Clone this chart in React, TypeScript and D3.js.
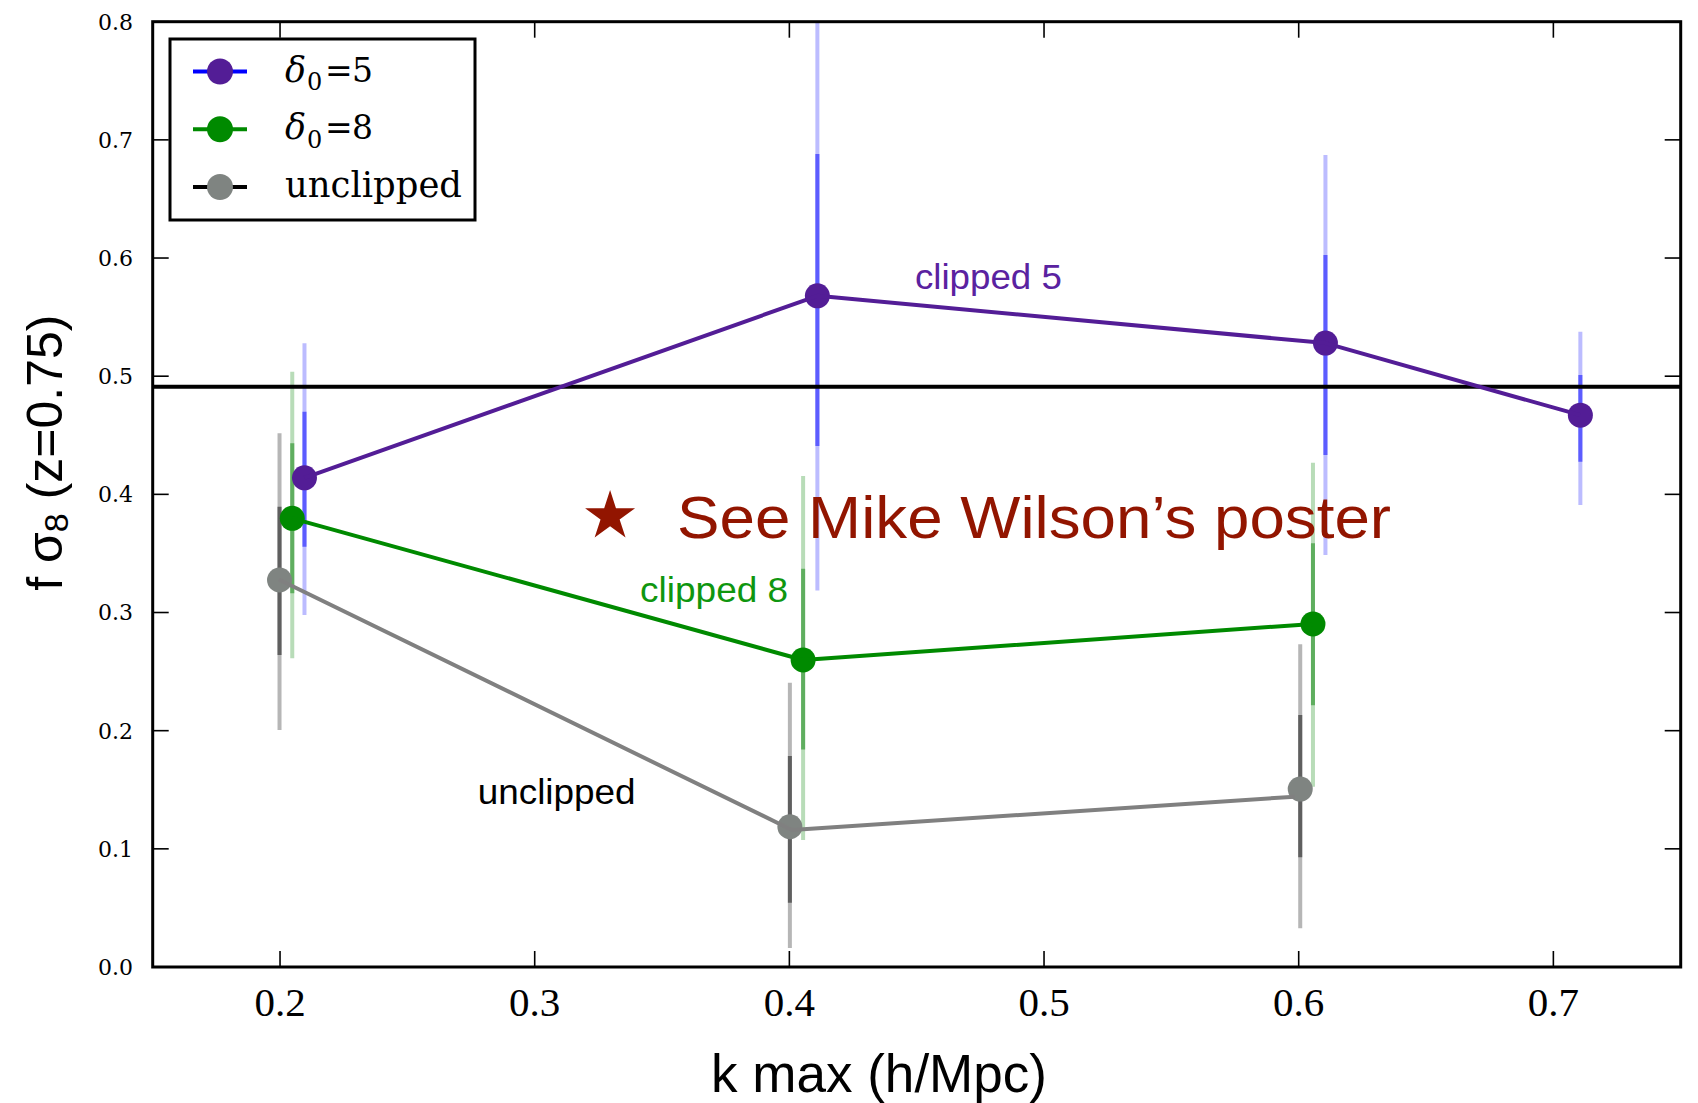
import React from "react";
import * as d3 from "d3";

// ---- data ----
const kPurple = [0.2096, 0.411, 0.6105, 0.7106];
const fPurple = [0.414, 0.568, 0.528, 0.467];
const purpleInner = [[0.3557, 0.47], [0.441, 0.688], [0.4333, 0.6026], [0.4276, 0.501]];
const purpleOuter = [[0.2979, 0.5278], [0.3186, 0.818], [0.3487, 0.6872], [0.391, 0.5377]];

const kGreen = [0.2048, 0.4054, 0.6056];
const fGreen = [0.3797, 0.2598, 0.2903];
const greenInner = [[0.3163, 0.4432], [0.184, 0.337], [0.2215, 0.3586]];
const greenOuter = [[0.2613, 0.5038], [0.1075, 0.4155], [0.1526, 0.4268]];

const kGray = [0.1998, 0.4002, 0.6006];
const fGray = [0.3275, 0.1187, 0.1506];
const grayInner = [[0.264, 0.3896], [0.0544, 0.1786], [0.0928, 0.2133]];
const grayOuter = [[0.2006, 0.4517], [0.016, 0.2406], [0.0327, 0.2731]];
const kGrayLine = [0.1995, 0.401, 0.5985];
const fGrayLine = [0.328, 0.116, 0.1441];

const fiducial = 0.491;

const xTicks = [0.2, 0.3, 0.4, 0.5, 0.6, 0.7];
const yTicks = [0.0, 0.1, 0.2, 0.3, 0.4, 0.5, 0.6, 0.7, 0.8];

const annotations = [
  { text: "clipped 5", k: 0.4493, f: 0.5738, color: "#5a22a0", len: 147 },
  { text: "clipped 8", k: 0.3414, f: 0.3089, color: "#0f960f", len: 148 },
  { text: "unclipped", k: 0.2776, f: 0.138, color: "#000000", len: 158 },
];
const starPos = { k: 0.3296, f: 0.3814 };
const posterText = { text: "See Mike Wilson\u2019s poster", k: 0.3559, f: 0.3631 };

// ---- layout ----
const W = 1698, H = 1103;
const L = 152.7, R = 1680.7, T = 21.7, B = 967;

export default function App() {
  const x = d3.scaleLinear().domain([0.15, 0.75]).range([L, R]);
  const y = d3.scaleLinear().domain([0, 0.8]).range([B, T]);
  const line = d3.line<[number, number]>().x((d) => x(d[0])).y((d) => y(d[1]));

  const series = [
    { k: kPurple, f: fPurple, inner: purpleInner, outer: purpleOuter, lk: kPurple, lf: fPurple,
      innerC: "#5c5cff", outerC: "#bcbcff", marker: "#531d96", lineC: "#531d96" },
    { k: kGreen, f: fGreen, inner: greenInner, outer: greenOuter, lk: kGreen, lf: fGreen,
      innerC: "#5fae5f", outerC: "#b8dcb8", marker: "#008a00", lineC: "#008a00" },
    { k: kGray, f: fGray, inner: grayInner, outer: grayOuter, lk: kGrayLine, lf: fGrayLine,
      innerC: "#5f5f5f", outerC: "#b6b6b6", marker: "#7f8481", lineC: "#808080" },
  ];

  const star = d3.symbol().type(d3.symbolStar).size(776)();

  const legendRows = [
    { lineC: "#0000ff", marker: "#531d96", kind: "d", val: "5" },
    { lineC: "#008a00", marker: "#008a00", kind: "d", val: "8" },
    { lineC: "#000000", marker: "#7f8481", kind: "u", val: "" },
  ];
  const rowY = [71.5, 129.3, 187];

  return (
    <svg width={W} height={H} style={{ position: "absolute", left: 0, top: 0, background: "#fff" }}>
      <defs>
        <clipPath id="plotclip">
          <rect x={L} y={T} width={R - L} height={B - T} />
        </clipPath>
      </defs>
      <rect x={0} y={0} width={W} height={H} fill="#fff" />

      <g clipPath="url(#plotclip)">
        {/* error bars */}
        {series.map((s, si) => (
          <g key={"eb" + si}>
            {s.outer.map((e, i) => (
              <line key={"o" + i} x1={x(s.k[i])} x2={x(s.k[i])} y1={y(e[0])} y2={y(e[1])}
                stroke={s.outerC} strokeWidth={4} />
            ))}
            {s.inner.map((e, i) => (
              <line key={"i" + i} x1={x(s.k[i])} x2={x(s.k[i])} y1={y(e[0])} y2={y(e[1])}
                stroke={s.innerC} strokeWidth={4} />
            ))}
          </g>
        ))}
        {/* fiducial line */}
        <line x1={L} x2={R} y1={y(fiducial)} y2={y(fiducial)} stroke="#000" strokeWidth={4} />
        {/* markers */}
        {series.map((s, si) => (
          <g key={"m" + si}>
            {s.k.map((k, i) => (
              <circle key={i} cx={x(k)} cy={y(s.f[i])} r={12.5} fill={s.marker} />
            ))}
          </g>
        ))}
        {/* lines */}
        {series.map((s, si) => (
          <path key={"l" + si}
            d={line(s.lk.map((k, i) => [k, s.lf[i]] as [number, number])) || ""}
            fill="none" stroke={s.lineC} strokeWidth={4} strokeLinejoin="round" />
        ))}
      </g>

      {/* annotations */}
      {annotations.map((a, i) => (
        <text key={"a" + i} x={x(a.k)} y={y(a.f)} fill={a.color}
          fontFamily="'Liberation Sans', Arial, sans-serif" fontSize={35}
          textLength={a.len} lengthAdjust="spacingAndGlyphs">{a.text}</text>
      ))}
      <path d={star || ""} transform={`translate(${x(starPos.k)},${y(starPos.f)})`} fill="#921500" />
      <text x={x(posterText.k)} y={y(posterText.f)} fill="#921500"
        fontFamily="'Liberation Sans', Arial, sans-serif" fontSize={60}
        textLength={714} lengthAdjust="spacingAndGlyphs">{posterText.text}</text>

      {/* frame */}
      <rect x={L} y={T} width={R - L} height={B - T} fill="none" stroke="#000" strokeWidth={3} />

      {/* ticks */}
      {xTicks.map((t) => (
        <g key={"xt" + t}>
          <line x1={x(t)} x2={x(t)} y1={B} y2={B - 16} stroke="#000" strokeWidth={1.6} />
          <line x1={x(t)} x2={x(t)} y1={T} y2={T + 16} stroke="#000" strokeWidth={1.6} />
          <text x={x(t)} y={1016} textAnchor="middle"
            fontFamily="'Liberation Serif', 'Times New Roman', serif" fontSize={41} fill="#000">
            {t.toFixed(1)}
          </text>
        </g>
      ))}
      {yTicks.map((t) => (
        <g key={"yt" + t}>
          <line x1={L} x2={L + 16} y1={y(t)} y2={y(t)} stroke="#000" strokeWidth={1.6} />
          <line x1={R} x2={R - 16} y1={y(t)} y2={y(t)} stroke="#000" strokeWidth={1.6} />
          <text x={133} y={y(t)} dy="0.36em" textAnchor="end"
            fontFamily="'DejaVu Serif', serif" fontSize={22} fill="#000">
            {t.toFixed(1)}
          </text>
        </g>
      ))}

      {/* axis labels */}
      <text x={879} y={1092} textAnchor="middle"
        fontFamily="'Liberation Sans', Arial, sans-serif" fontSize={54} fill="#000"
        textLength={336} lengthAdjust="spacingAndGlyphs">k max (h/Mpc)</text>
      <text transform="translate(61.7,452.7) rotate(-90)" textAnchor="middle"
        fontFamily="'Liberation Sans', Arial, sans-serif" fontSize={50} fill="#000">
        <tspan>f σ</tspan>
        <tspan fontSize={34} dy={6}>8</tspan>
        <tspan dy={-6}> (z=0.75)</tspan>
      </text>

      {/* legend */}
      <rect x={170} y={39} width={305} height={181} fill="#fff" stroke="#000" strokeWidth={3} />
      {legendRows.map((r, i) => (
        <g key={"lg" + i}>
          <line x1={193} x2={247} y1={rowY[i]} y2={rowY[i]} stroke={r.lineC} strokeWidth={4} />
          <circle cx={220} cy={rowY[i]} r={13} fill={r.marker} />
          {r.kind === "d" ? (
            <text x={285} y={rowY[i] + 10} fontFamily="'DejaVu Serif', serif" fill="#000" fontSize={35}>
              <tspan fontStyle="italic">δ</tspan>
              <tspan x={307} dy={8.5} fontSize={24}>0</tspan>
              <tspan x={325} dy={-8.5} fontSize={33}>=</tspan>
              <tspan x={352} fontSize={33}>{r.val}</tspan>
            </text>
          ) : (
            <text x={285} y={rowY[i] + 10} fontFamily="'DejaVu Serif', serif" fontSize={35} fill="#000"
              textLength={177} lengthAdjust="spacingAndGlyphs">unclipped</text>
          )}
        </g>
      ))}
    </svg>
  );
}
